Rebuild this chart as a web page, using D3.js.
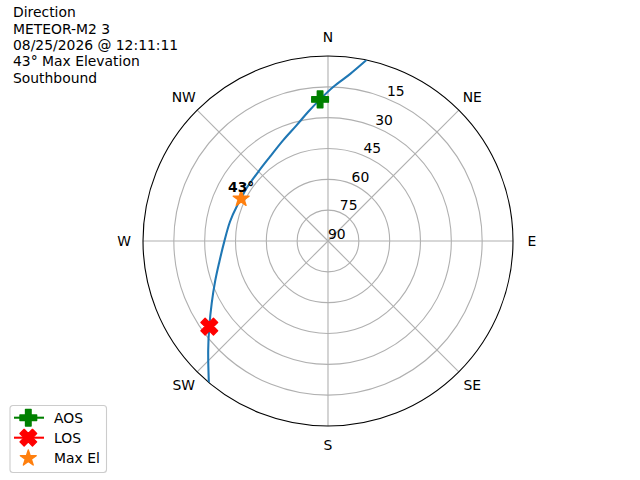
<!DOCTYPE html>
<meta charset="utf-8">
<style>
  body { margin: 0; background: #fff; }
  svg { display: block; font-family: "DejaVu Sans", sans-serif; }
</style>
<body>
<div id="vis"></div>
<script src="https://cdn.jsdelivr.net/npm/d3@7"></script>
<script>

const width = 640,
    height = 480;

const blue = '#1f77b4';
const orange = '#ff7f0e';
const grid = '#b0b0b0';

// pass info
const titleLines = ['Direction', 'METEOR-M2 3', '08/25/2026 @ 12:11:11', '43\u00b0 Max Elevation', 'Southbound'];

// track: azimuth (deg, clockwise from N) and elevation (deg)
const trackAz = [12.0, 7.5, 2.0, 356.8, 351.3, 344.9, 336.1, 325.5, 314.8, 301.6, 296.0, 291.5, 281.1, 269.1, 259.2, 250.2, 241.8, 234.2, 227.7, 220.1];
const trackEl = [0, 8.1, 14.9, 21.0, 26.4, 31.6, 36.3, 40.2, 42.2, 42.8, 43.0, 42.6, 41.4, 39.4, 36.2, 31.6, 25.8, 18.8, 11.2, 0];

const markerNames = ['AOS', 'LOS', 'Max El'];
const markerAz = [356.8, 234.2, 296.0];
const markerEl = [21.0, 18.8, 43.0];
const maxElLabel = '43\u00b0';

const elTicks = [15, 30, 45, 60, 75, 90];
const dirLabels = ['N', 'NE', 'E', 'SE', 'S', 'SW', 'W', 'NW'];
const dirAngles = [0, 45, 90, 135, 180, 225, 270, 315];

const cx = 328, cy = 241, R = 185;

const r = d3.scaleLinear().domain([90, 0]).range([0, R]);
const rad = d => d * Math.PI / 180;
const px = (az, el) => [cx + r(el) * Math.sin(rad(az)), cy - r(el) * Math.cos(rad(az))];

const svg = d3.select('#vis').append('svg')
    .attr('width', width)
    .attr('height', height);

svg.append('defs').append('clipPath').attr('id', 'polar-clip')
  .append('circle').attr('cx', cx).attr('cy', cy).attr('r', R);

const polarG = svg.append('g').attr('transform', 'translate(' + cx + ',' + cy + ')');

// grid circles
polarG.selectAll('.grid-circle')
  .data(elTicks.filter(d => d < 90))
  .enter().append('circle')
  .attr('class', 'grid-circle')
  .attr('r', d => r(d))
  .style('fill', 'none')
  .style('stroke', grid)
  .style('stroke-width', 1.1);

// spokes
polarG.selectAll('.spoke')
  .data(dirAngles)
  .enter().append('line')
  .attr('class', 'spoke')
  .attr('x2', d => R * Math.sin(rad(d)))
  .attr('y2', d => -R * Math.cos(rad(d)))
  .style('stroke', grid)
  .style('stroke-width', 1.1);

// outer spine
polarG.append('circle')
  .attr('r', r(0))
  .style('fill', 'none')
  .style('stroke', '#000')
  .style('stroke-width', 1.1);

// direction labels
polarG.selectAll('.dir-label')
  .data(dirAngles)
  .enter().append('text')
  .attr('class', 'dir-label')
  .attr('x', d => (R + 19) * Math.sin(rad(d)))
  .attr('y', d => -(R + 19) * Math.cos(rad(d)))
  .attr('dy', '0.35em')
  .style('font-size', '13.9px')
  .style('text-anchor', 'middle')
  .text((d, i) => dirLabels[i]);

// elevation labels at 22.5 deg
polarG.selectAll('.el-label')
  .data(elTicks)
  .enter().append('text')
  .attr('class', 'el-label')
  .attr('x', d => r(d) * Math.sin(rad(22.5)))
  .attr('y', d => -r(d) * Math.cos(rad(22.5)) - 2.3)
  .style('font-size', '13.9px')
  .text(d => d);

// track
const track = d3.lineRadial()
  .angle(d => rad(d[0]))
  .radius(d => r(d[1]))
  .curve(d3.curveCatmullRom);

svg.append('g').attr('clip-path', 'url(#polar-clip)')
  .append('path')
  .attr('transform', 'translate(' + cx + ',' + cy + ')')
  .attr('d', track(trackAz.map((a, i) => [a, trackEl[i]])))
  .style('fill', 'none')
  .style('stroke', blue)
  .style('stroke-width', 2.08);

// marker shapes (matplotlib-like, ms=12pt)
const ms = 16.67;
const plusPts = [[-1,-3],[-1,-1],[-3,-1],[-3,1],[-1,1],[-1,3],[1,3],[1,1],[3,1],[3,-1],[1,-1],[1,-3]].map(p => [p[0]/6*ms, p[1]/6*ms]);
const xPts = [[-1,-2],[0,-1],[1,-2],[2,-1],[1,0],[2,1],[1,2],[0,1],[-1,2],[-2,1],[-1,0],[-2,-1]].map(p => [p[0]/4*ms, p[1]/4*ms]);
const starPts = d3.range(10).map(i => {
  let rr = (i % 2 ? 0.381966 : 1) * ms / 2;
  let a = rad(i * 36);
  return [rr * Math.sin(a), -rr * Math.cos(a)];
});
const poly = pts => 'M' + pts.map(p => p.join(',')).join('L') + 'Z';
const shapes = [poly(plusPts), poly(xPts), poly(starPts)];
const colors = ['green', 'red', orange];

const markG = svg.append('g');
markG.selectAll('.marker')
  .data(markerNames)
  .enter().append('path')
  .attr('class', 'marker')
  .attr('transform', (d, i) => 'translate(' + px(markerAz[i], markerEl[i]) + ')')
  .attr('d', (d, i) => shapes[i])
  .style('fill', (d, i) => colors[i])
  .style('stroke', (d, i) => colors[i])
  .style('stroke-width', 1.39)
  .style('stroke-linejoin', 'round');

const mx = px(markerAz[2], markerEl[2]);
svg.append('text')
  .attr('x', mx[0])
  .attr('y', mx[1] - 6.5)
  .style('font-size', '13.9px')
  .style('font-weight', 'bold')
  .style('text-anchor', 'middle')
  .text(maxElLabel);

// title block
svg.append('g').selectAll('text')
  .data(titleLines)
  .enter().append('text')
  .attr('x', 13)
  .attr('y', (d, i) => 17.3 + i * 16.3)
  .style('font-size', '13.9px')
  .text(d => d);

// legend
const legG = svg.append('g').attr('transform', 'translate(10,405.5)');
legG.append('rect')
  .attr('width', 96.5)
  .attr('height', 67)
  .attr('rx', 3)
  .style('fill', '#fff')
  .style('fill-opacity', 0.8)
  .style('stroke', '#cccccc')
  .style('stroke-width', 1.1);
const legY = [12.2, 32.2, 52.8];
const item = legG.selectAll('.leg-item')
  .data(markerNames)
  .enter().append('g')
  .attr('class', 'leg-item')
  .attr('transform', (d, i) => 'translate(0,' + legY[i] + ')');
item.filter((d, i) => i < 2).append('line')
  .attr('x1', 4).attr('x2', 34)
  .style('stroke', (d, i) => colors[i])
  .style('stroke-width', 2.08);
item.append('path')
  .attr('transform', 'translate(18.3,0)')
  .attr('d', (d, i) => shapes[i])
  .style('fill', (d, i) => colors[i])
  .style('stroke', (d, i) => colors[i])
  .style('stroke-width', 1.39)
  .style('stroke-linejoin', 'round');
item.append('text')
  .attr('x', 44)
  .attr('dy', '0.35em')
  .style('font-size', '13.9px')
  .text(d => d);

</script>
</body>
